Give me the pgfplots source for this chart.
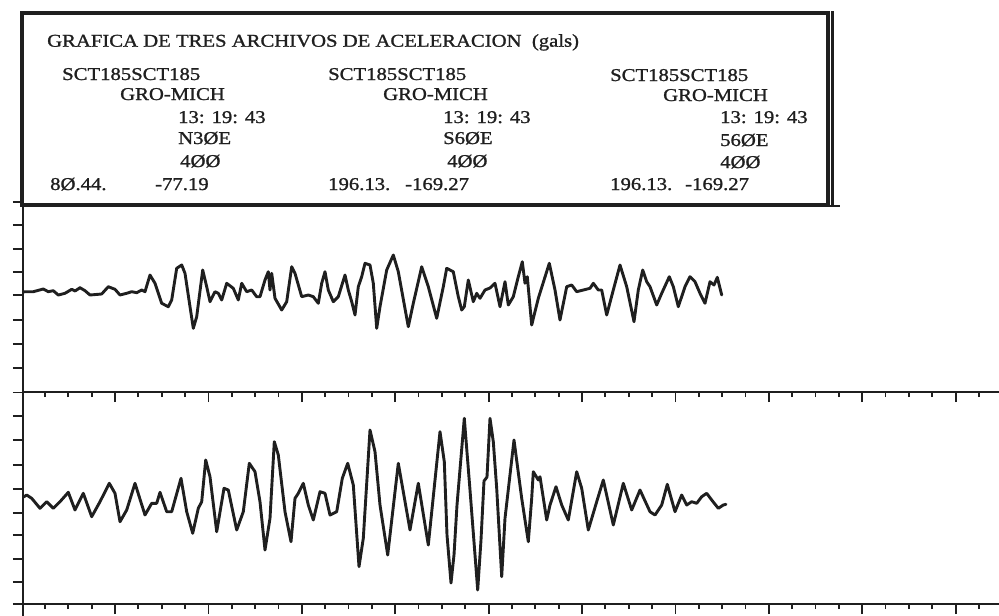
\documentclass[border=0pt]{standalone}
\usepackage{pgfplots}
\pgfplotsset{compat=1.18}
\usepackage{fontspec}
\setmainfont{Liberation Serif}
\newfontfamily\scan[FakeStretch=1.15,FakeBold=1.2]{Liberation Serif}
\definecolor{ink}{gray}{0.12}

\pgfplotstableread{
x y
23.5 -292
25 -291.7
33.3 -291.7
43.3 -289
48.3 -291.7
53.3 -290.7
58.3 -295
65 -293.3
71.7 -289.3
75 -291
80 -287.7
85 -290.7
90 -295
101.7 -294
108.3 -286.7
115 -289.3
120 -295
126.7 -293.3
131.7 -291.7
136.7 -292.7
141.7 -290
145 -291.7
150 -275
155 -283.3
161.7 -303.3
165 -305
168.3 -306.7
171.7 -300
176.7 -268.3
181.7 -265
185 -273.3
190 -306.7
193.3 -328.3
196.7 -316.7
202.7 -270
206.7 -286.7
210 -301.7
215 -291.7
218.3 -293.3
221.7 -300
226.7 -283.3
233.3 -288.3
238.3 -300
241.7 -283.3
246.7 -291.7
251.7 -290
256.7 -296.7
260 -296.7
265 -280
268.3 -271.7
270 -290
271.7 -273.3
275 -298.3
281.7 -310
286.7 -301.7
291.7 -266.7
295 -273.3
301.7 -296.7
308.3 -295
313.3 -296.7
318.3 -303.3
321.7 -283.3
325 -271.7
328.3 -290
333.3 -301.7
338.3 -296.7
345 -275
348.3 -290
351.7 -301.7
355 -315
358.3 -286.7
361.7 -276.7
365 -263.3
370 -265
373.3 -283.3
376.7 -328.3
380 -306.7
386.7 -270
393.3 -255
398.3 -271.7
408.3 -326.7
413.3 -303.3
421.7 -266.7
428.3 -286.7
436.7 -318.3
443.3 -286.7
446.7 -268.3
453.3 -271.7
458.3 -296.7
461.7 -310
464.3 -306.7
468.3 -280
473.3 -301.7
476.7 -293.3
480 -298.3
485 -290
490 -288
495 -283.3
500 -306.7
505 -281.7
508.3 -305
513.3 -296.7
518.3 -276.7
522.3 -261.7
525 -283.3
527.3 -276.7
531.7 -325
538.3 -298.3
549.3 -263.3
555 -290
560 -320
566.7 -286.7
571.7 -285
576.7 -291.7
583.3 -290
590 -288.3
593.3 -283.3
598.3 -290
601.7 -290
606.7 -315
613.3 -290
620 -265
626.7 -286.7
634 -321.7
638.3 -290
642.7 -270
646.7 -281.7
650 -286.7
656.7 -305
661.7 -293.3
669.3 -276.7
673.3 -286.7
678.3 -306.7
685 -286.7
690 -276.7
695 -281.7
700 -293.3
705 -303.3
710 -281.7
714 -285
717.3 -277.3
721.7 -295
}\traceone

\pgfplotstableread{
x y
23.5 -497
26.7 -495
31.7 -498.3
40 -508.3
46.7 -501.7
53.3 -508.3
60 -501.7
68.3 -492.3
75 -510
83.3 -493.3
91.7 -516.7
100 -501.7
109.3 -483.3
115 -493.3
120 -521.7
126.7 -510
135 -483.3
145 -515
151.7 -503.3
156.7 -503.3
160 -492.3
166.7 -511.7
171.7 -511.7
181 -478.3
186.7 -511.7
192.7 -533.3
198.3 -508.3
201.7 -501.7
205.7 -460
210 -476.7
216.7 -531.7
224 -488.3
228.3 -490
236.7 -530
243.3 -511.7
249.3 -463.3
255 -471.7
260 -501.7
265 -550
270 -518.3
274.3 -441.7
278.3 -455
285 -511.7
291 -541.7
295 -498.3
298.3 -493.3
303.3 -483.3
308.3 -505
313.3 -520
320 -491.7
325 -493.3
330 -515
336.7 -511.7
342.3 -478.3
347.7 -463.3
353.3 -485
359 -566.7
363.3 -538.3
370 -430
375 -451.7
380 -505
387.7 -555
398.3 -463.3
410 -530
418.3 -483.3
428.3 -545
440 -431.7
444.3 -461.7
447 -535
451 -583
454 -555
457 -505
464.3 -418.3
470 -490
477.7 -590
481 -540
484 -481
487 -477
490 -418.3
493.3 -441.7
496.7 -488.3
501.7 -576.7
505 -518.3
514 -440
521.7 -498.3
528.3 -541.7
531.7 -498.3
533.3 -471.7
538.3 -480
540 -476.7
546.7 -520
550 -505
556 -486.7
561.7 -505
568.3 -520
576.7 -471.7
581.7 -488.3
588.3 -530
596.7 -501.7
603.3 -480
613.3 -525
623.3 -483.3
631.7 -510
640 -490
650 -511.7
655 -515
661.7 -505
667.3 -484.3
675 -511.7
681.7 -495
686.7 -505
691.7 -501.7
696.7 -503.3
701.7 -496.7
706.7 -493.3
711.7 -500
718.3 -508.3
723.3 -505
726 -504.3
}\tracetwo

\pgfplotsset{
  seis/.style={
    scale only axis, width=976pt,
    xmin=23, xmax=999,
    axis x line=bottom, axis y line=left,
    axis line style={-, line width=2.2pt, ink},
    tick align=outside,
    xtick={115,208.4,...,960},
    minor xtick={44.95,68.3,...,990},
    major tick length=10pt, minor tick length=5pt,
    every tick/.style={line width=1.8pt, ink},
    xticklabels={}, yticklabels={},
    clip=false,
  },
  trace/.style={ink, line width=2.9pt, line join=round, line cap=round, no markers},
}

\begin{document}
\begin{tikzpicture}[x=1pt,y=1pt]
\begin{axis}[seis, at={(23pt,-392pt)}, anchor=south west,
  height=193pt, ymin=-392, ymax=-199,
  ytick={-368,-344,-320,-295,-272,-249,-225,-201.7}]
  \addplot[trace] table[x=x,y=y] {\traceone};
\end{axis}
\begin{axis}[seis, at={(23pt,-604pt)}, anchor=south west,
  height=212pt, ymin=-604, ymax=-392,
  ytick={-604,-582,-559,-535,-513,-489,-465,-440,-416,-392.5}]
  \addplot[trace] table[x=x,y=y] {\tracetwo};
\end{axis}
% left axis continues below the bottom line
\draw[ink, line width=2.2pt] (23,-604) -- (23,-616);
% frame of the header
\draw[ink, line width=3.8pt] (22,-13) rectangle (828,-205);
\draw[ink, line width=2.2pt] (832.5,-11) -- (832.5,-206);
\draw[ink, line width=2.2pt] (826,-206) -- (840,-206);
\begin{scope}[every node/.style={anchor=base west, inner sep=0pt, text=ink, font=\scan\fontsize{18}{20}\selectfont}]
\node at (47,-46.7) {GRAFICA DE TRES ARCHIVOS DE ACELERACION\ \ (gals)};
% column 1
\node at (62,-80) {SCT185SCT185};
\node at (120,-100) {GRO-MICH};
\node at (178,-123) {13: 19: 43};
\node at (178,-144) {N3ØE};
\node at (180,-167) {4ØØ};
\node at (50,-190) {8Ø.44.};
\node at (155,-190) {-77.19};
% column 2
\node at (328,-80) {SCT185SCT185};
\node at (383,-100) {GRO-MICH};
\node at (443,-123) {13: 19: 43};
\node at (443,-144) {S6ØE};
\node at (447,-167) {4ØØ};
\node at (328,-190) {196.13.};
\node at (405,-190) {-169.27};
% column 3
\node at (610,-81) {SCT185SCT185};
\node at (663,-101) {GRO-MICH};
\node at (720,-123) {13: 19: 43};
\node at (720,-146) {56ØE};
\node at (720,-168) {4ØØ};
\node at (610,-190) {196.13.};
\node at (685,-190) {-169.27};
\end{scope}
\pgfresetboundingbox
\path[use as bounding box] (0,0) rectangle (999,-616);
\end{tikzpicture}
\end{document}
